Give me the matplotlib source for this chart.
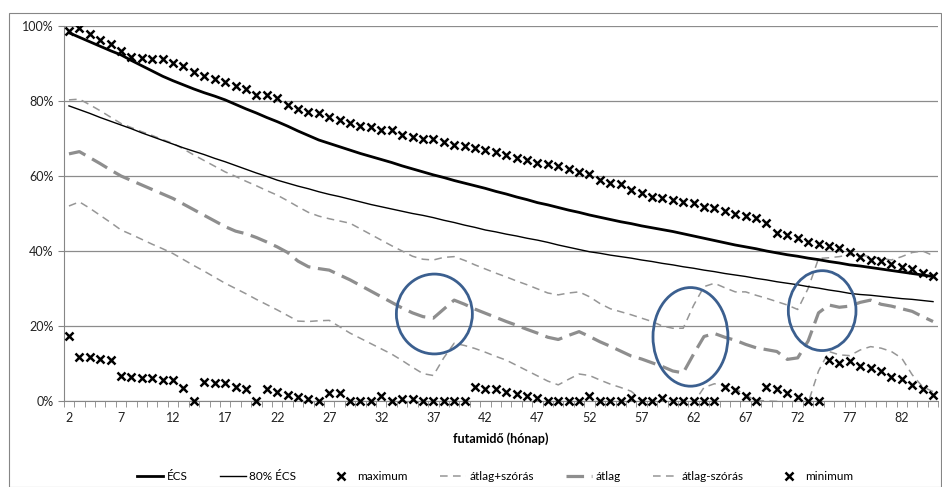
import numpy as np
import matplotlib.pyplot as plt
from matplotlib.patches import Ellipse, Rectangle

plt.rcParams['font.family'] = ['Lato', 'DejaVu Sans']

# futamidő (hónap): 2..85
months = list(range(2, 86))

ecs = [98.2, 97.0, 95.8, 94.6, 93.4, 92.3, 90.8, 89.4, 88.0, 86.6,
       85.4, 84.3, 83.2, 82.2, 81.3, 80.3, 79.1, 77.9, 76.8, 75.6,
       74.5, 73.3, 72.0, 70.8, 69.6, 68.7, 67.8, 66.9, 66.0, 65.2,
       64.4, 63.6, 62.7, 61.9, 61.1, 60.3, 59.6, 58.8, 58.1, 57.4,
       56.7, 55.9, 55.2, 54.4, 53.7, 52.9, 52.3, 51.6, 50.9, 50.3,
       49.6, 49.0, 48.4, 47.8, 47.3, 46.7, 46.2, 45.7, 45.2, 44.6,
       44.0, 43.4, 42.8, 42.2, 41.6, 41.1, 40.6, 40.0, 39.5, 39.0,
       38.6, 38.1, 37.7, 37.2, 36.8, 36.3, 36.0, 35.6, 35.2, 34.8,
       34.4, 34.0, 33.6, 33.2]

ecs80 = [78.7, 77.7, 76.7, 75.6, 74.6, 73.6, 72.6, 71.5, 70.5, 69.5,
         68.5, 67.5, 66.6, 65.7, 64.7, 63.8, 62.8, 61.8, 60.8, 59.9,
         58.9, 58.1, 57.3, 56.6, 55.8, 55.1, 54.5, 53.8, 53.1, 52.4,
         51.8, 51.2, 50.6, 50.0, 49.5, 48.9, 48.2, 47.6, 46.9, 46.3,
         45.6, 45.1, 44.5, 44.0, 43.4, 42.9, 42.3, 41.6, 41.0, 40.4,
         39.8, 39.4, 38.9, 38.5, 38.1, 37.6, 37.2, 36.7, 36.3, 35.8,
         35.4, 34.9, 34.5, 34.0, 33.6, 33.2, 32.7, 32.3, 31.8, 31.4,
         31.0, 30.5, 30.1, 29.6, 29.2, 28.7, 28.4, 28.2, 27.9, 27.6,
         27.3, 27.1, 26.8, 26.5]

maximum = [98.8, 99.4, 97.8, 96.4, 95.1, 93.4, 91.8, 91.5, 91.1, 91.1,
           90.2, 89.4, 87.7, 86.8, 85.8, 85.2, 84.0, 83.1, 81.6, 81.6,
           80.9, 78.9, 77.8, 77.0, 76.7, 75.8, 74.9, 74.2, 73.3, 73.1,
           72.4, 72.4, 70.9, 70.3, 70.0, 69.8, 69.2, 68.4, 68.0, 67.4,
           66.9, 66.5, 65.6, 64.7, 64.3, 63.6, 63.2, 62.7, 62.0, 61.1,
           60.5, 58.9, 58.1, 57.8, 56.4, 55.4, 54.5, 54.2, 53.6, 53.1,
           52.9, 51.8, 51.4, 50.7, 50.0, 49.3, 48.7, 47.6, 44.9, 44.3,
           43.4, 42.5, 41.9, 41.2, 40.7, 39.8, 38.5, 37.6, 37.2, 36.5,
           35.8, 35.1, 34.2, 33.3]

atlag_plus = [80.3, 80.5, 79.0, 77.4, 75.7, 74.0, 72.9, 71.8, 70.8, 69.7,
              68.7, 67.2, 65.6, 64.1, 62.6, 61.1, 59.9, 58.6, 57.4, 56.1,
              54.9, 53.4, 51.8, 50.3, 49.3, 48.6, 48.0, 47.4, 45.9, 44.4,
              42.9, 41.4, 40.0, 38.6, 37.8, 37.6, 38.3, 38.5, 37.5, 36.3,
              35.2, 34.1, 33.1, 32.0, 31.0, 29.9, 28.8, 28.3, 28.8, 29.1,
              27.8, 26.0, 24.6, 23.8, 23.0, 22.1, 21.2, 20.0, 19.4, 19.4,
              25.5, 30.5, 31.4, 30.2, 29.1, 29.1, 28.2, 27.4, 26.5, 25.6,
              24.4, 30.0, 38.0, 38.2, 38.5, 39.0, 38.8, 38.6, 38.0, 37.6,
              38.5, 39.6, 40.0, 38.8]

atlag = [65.9, 66.5, 64.9, 63.3, 61.6, 60.0, 58.8, 57.6, 56.4, 55.2,
         54.0, 52.5, 51.0, 49.5, 48.0, 46.5, 45.3, 44.6, 43.6, 42.4,
         41.1, 39.6, 37.3, 35.8, 35.3, 34.9, 33.6, 32.3, 30.8, 29.3,
         27.8, 26.3, 24.8, 23.5, 22.5, 22.1, 24.5, 26.9, 25.8, 24.5,
         23.4, 22.3, 21.2, 20.2, 19.1, 18.1, 17.0, 16.4, 17.5, 18.5,
         17.2, 15.8, 14.6, 13.3, 12.0, 11.2, 10.2, 9.2, 8.0, 7.5,
         12.5, 17.2, 18.0, 17.0, 16.2, 15.1, 14.2, 13.7, 13.2, 11.1,
         11.5, 16.0, 23.5, 25.6, 25.0, 25.3, 26.3, 26.9, 25.8, 25.3,
         24.6, 23.9, 22.5, 21.2]

atlag_minus = [52.0, 53.1, 51.4, 49.5, 47.6, 45.6, 44.4, 43.1, 41.8, 40.6,
               39.3, 37.7, 36.1, 34.6, 33.0, 31.4, 30.0, 28.6, 27.1, 25.7,
               24.3, 22.8, 21.3, 21.2, 21.4, 21.5, 19.8, 18.1, 16.7, 15.3,
               13.9, 12.5, 10.8, 9.0, 7.3, 6.8, 11.5, 15.4, 14.8, 14.0,
               13.0, 11.9, 10.9, 9.5, 8.1, 6.7, 5.3, 4.3, 5.8, 7.2,
               6.8, 5.6, 4.5, 3.6, 2.6, 0.3, -0.8, -1.6, -3.4, -4.4,
               -0.5, 3.6, 4.6, 4.0, 3.3, 1.5, 0.2, 0.0, -0.1, -3.4,
               -1.4, -0.5, 8.0, 13.2, 12.3, 12.1, 13.6, 14.5, 14.1, 13.2,
               11.4, 7.0, 3.8, 2.5]

minimum = [17.4, 11.8, 11.7, 11.2, 10.9, 6.6, 6.4, 6.0, 6.0, 5.7,
           5.6, 3.4, 0.0, 5.1, 4.9, 4.7, 3.8, 3.1, 0.0, 3.1,
           2.5, 1.7, 1.0, 0.5, 0.0, 2.0, 2.0, 0.0, 0.0, 0.0,
           1.2, 0.0, 0.5, 0.5, 0.0, 0.0, 0.0, 0.0, 0.0, 3.8,
           3.3, 3.1, 2.4, 1.8, 1.3, 0.9, 0.0, 0.0, 0.0, 0.0,
           1.3, 0.0, 0.0, 0.0, 0.9, 0.0, 0.0, 0.9, 0.0, 0.0,
           0.0, 0.0, 0.0, 3.8, 2.9, 1.3, 0.0, 3.8, 3.1, 2.2,
           1.1, 0.0, 0.0, 10.9, 10.2, 10.6, 9.2, 8.9, 8.0, 6.5,
           5.8, 4.2, 3.3, 1.5]

# kiemelt részek (hónap, %, szélesség, magasság)
circles = [(37.1, 23.2, 7.3, 21.3), (61.7, 17.1, 7.2, 26.3), (74.35, 24.1, 6.5, 21.3)]

fig = plt.figure(figsize=(9.42, 4.87), dpi=100)
ax = fig.add_axes([0.0677, 0.1766, 0.9283, 0.770])

gray = '#8e8e8e'
ax.plot(months, ecs, color='black', lw=2.0, label='ÉCS', zorder=4)
ax.plot(months, ecs80, color='black', lw=1.0, label='80% ÉCS', zorder=4)
ax.plot(months, maximum, ls='none', marker='x', ms=5.5, mew=1.8, color='black',
        label='maximum', zorder=5)
ax.plot(months, atlag_plus, color='#969696', lw=1.1, dashes=(5, 3.5), label='átlag+szórás', zorder=3)
ax.plot(months, atlag, color=gray, lw=2.3, dashes=(5.5, 2.4), label='átlag', zorder=3)
ax.plot(months, atlag_minus, color='#969696', lw=1.1, dashes=(5, 3.5), label='átlag-szórás', zorder=3)
ax.plot(months, minimum, ls='none', marker='x', ms=5.5, mew=1.8, color='black',
        label='minimum', zorder=5, clip_on=False)

for cx, cy, w, h in circles:
    ax.add_patch(Ellipse((cx, cy), w, h, fill=False, edgecolor='#3b5f8f', lw=2.0, zorder=6))

ax.set_xlim(1.5, 85.5)
ax.set_ylim(0, 100)
ax.set_yticks(range(0, 101, 20))
ax.set_yticklabels([f'{v}%' for v in range(0, 101, 20)])
ax.set_xticks(months[::5])
ax.set_xticks(np.arange(1.5, 86, 1), minor=True)
ax.tick_params(axis='x', which='major', length=0, pad=8, labelsize=9, colors='#222222')
ax.tick_params(axis='x', which='minor', length=4, color='#868686', direction='out')
ax.tick_params(axis='y', length=4, color='#868686', labelsize=9, colors='#222222')
ax.grid(axis='y', color='#8c8c8c', lw=0.9)
ax.set_axisbelow(True)
for s in ['top', 'right']:
    ax.spines[s].set_visible(False)
for s in ['left', 'bottom']:
    ax.spines[s].set_color('#868686')

ax.set_xlabel('futamidő (hónap)', fontsize=9, fontweight='bold', labelpad=6)

fig.legend(*ax.get_legend_handles_labels(), loc='center', bbox_to_anchor=(0.526, 0.021),
           ncol=7, frameon=False, fontsize=8.5, handlelength=2.2, columnspacing=2.7,
           handletextpad=0.3, borderpad=0.2)

fig.patches.append(Rectangle((9 / 942, 0.001), 932 / 942, 474 / 487, transform=fig.transFigure,
                             fill=False, edgecolor='#868686', lw=0.8))

fig.savefig('out.png', dpi=100)
